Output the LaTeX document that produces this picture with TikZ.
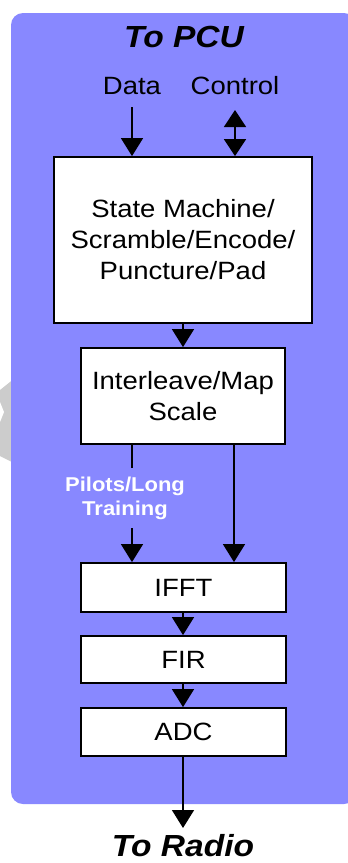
\documentclass[tikz,border=0pt]{standalone}
\usepackage{fontspec}
\setmainfont[FakeStretch=1.1]{Liberation Sans}
\usetikzlibrary{arrows.meta}
\definecolor{panelblue}{RGB}{136,136,255}
\definecolor{markgray}{RGB}{204,204,204}
\tikzset{
  blockbox/.style={draw=black, line width=1.8pt, fill=white, inner sep=0pt,
    align=center, font=\fontsize{25}{31}\selectfont},
  flow/.style={line width=1.5pt, -{Triangle[width=22pt,length=18pt]}},
  flowboth/.style={line width=1.5pt, {Triangle[width=22pt,length=17pt]}-{Triangle[width=22pt,length=17pt]}},
  plainline/.style={line width=1.5pt},
  portlabel/.style={anchor=base, font=\fontsize{25}{31}\selectfont},
  endlabel/.style={anchor=base, font=\fontsize{30.5}{36}\selectfont\bfseries\itshape},
  sidelabel/.style={align=center, text=white, font=\fontsize{20}{24}\selectfont\bfseries}
}
\begin{document}
\begin{tikzpicture}[x=1pt, y=-1pt]
\useasboundingbox (0,0) rectangle (348,863);

% faint mark on the left edge
\fill[markgray] (0,390) -- (20,374) -- (20,466) -- (0,456) -- cycle;
\fill[white] (0,402) -- (4,412) -- (0,422) -- cycle;

% background panel
\fill[panelblue, rounded corners=12pt] (11,13) rectangle (356,804);

% titles and port labels
\node[endlabel] (pcu) at (184,47) {To PCU};
\node[endlabel] (radio) at (183,856) {To Radio};
\node[portlabel] (data) at (132,94) {Data};
\node[portlabel] (ctrl) at (235,94) {Control};

% processing blocks
\node[blockbox, minimum width=258pt, minimum height=166pt] (sm) at (183,240)
  {State Machine/\\Scramble/Encode/\\Puncture/Pad};
\node[blockbox, minimum width=204pt, minimum height=96pt] (il) at (183,396)
  {Interleave/Map\\Scale};
\node[blockbox, minimum width=205pt, minimum height=49pt] (ifft) at (183.5,587.5) {IFFT};
\node[blockbox, minimum width=205pt, minimum height=47pt] (fir) at (183.5,659.5) {FIR};
\node[blockbox, minimum width=205pt, minimum height=48pt] (adc) at (183.5,732) {ADC};

\node[sidelabel] (pilots) at (125,498) {Pilots/Long\\Training};

% connector end points
\coordinate (dataTop) at (132,107);
\coordinate (ctrlTop) at (235,110);
\coordinate (pilotA) at (132,468);
\coordinate (pilotB) at (132,528);
\coordinate (mapX) at (234,0);
\coordinate (radioTip) at (183,828);

% connectors
\draw[flow] (dataTop) -- (sm.north -| dataTop);
\draw[flowboth] (ctrlTop) -- (sm.north -| ctrlTop);
\draw[flow] (sm.south -| il.north) -- (il.north);
\draw[plainline] (il.south -| pilotA) -- (pilotA);
\draw[flow] (pilotB) -- (ifft.north -| pilotB);
\draw[flow] (il.south -| mapX) -- (ifft.north -| mapX);
\draw[flow] (ifft.south -| sm.south) -- (fir.north -| sm.south);
\draw[flow] (fir.south -| sm.south) -- (adc.north -| sm.south);
\draw[flow] (adc.south -| sm.south) -- (radioTip);
\end{tikzpicture}
\end{document}
